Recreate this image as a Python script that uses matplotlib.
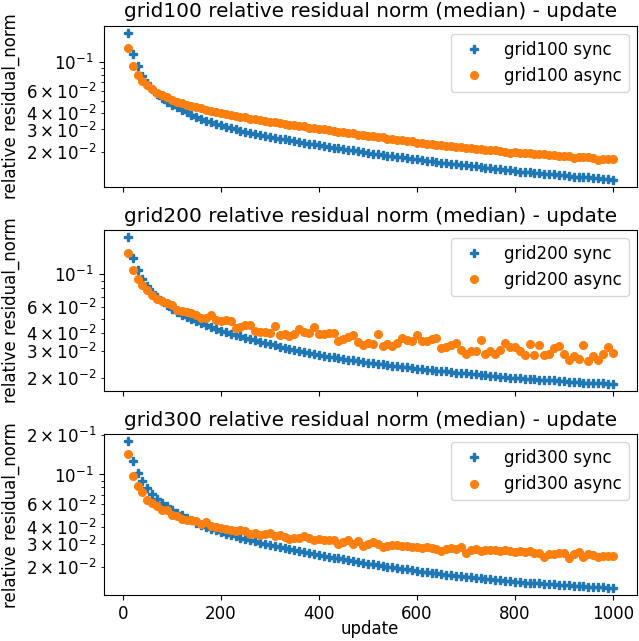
import matplotlib
matplotlib.use("Agg")
import matplotlib.pyplot as plt
from matplotlib.ticker import LogFormatterSciNotation

plt.rcParams['font.size'] = 12

updates = list(range(10, 1001, 10))
grids = ['grid100', 'grid200', 'grid300']

# grid100
g100_sync = [0.169, 0.116, 0.0931, 0.0785, 0.0692, 0.0624, 0.0571, 0.0531, 0.0495, 0.0468,
             0.0445, 0.0425, 0.0407, 0.0391, 0.0376, 0.0363, 0.0352, 0.0341, 0.0332, 0.0324,
             0.0316, 0.0308, 0.0301, 0.0294, 0.0288, 0.0283, 0.0278, 0.0273, 0.0268, 0.0263,
             0.0259, 0.0255, 0.0251, 0.0247, 0.0243, 0.0239, 0.0236, 0.0233, 0.0230, 0.0226,
             0.0223, 0.0220, 0.0217, 0.0214, 0.0211, 0.0208, 0.0206, 0.0203, 0.0200, 0.0197,
             0.0195, 0.0193, 0.0191, 0.0188, 0.0186, 0.0184, 0.0182, 0.0180, 0.0178, 0.0176,
             0.0174, 0.0172, 0.0170, 0.0168, 0.0166, 0.0164, 0.0163, 0.0161, 0.0160, 0.0158,
             0.0156, 0.0155, 0.0153, 0.0151, 0.0150, 0.0148, 0.0147, 0.0145, 0.0144, 0.0143,
             0.0141, 0.0140, 0.0139, 0.0138, 0.0137, 0.0136, 0.0135, 0.0134, 0.0132, 0.0132,
             0.0131, 0.0129, 0.0129, 0.0128, 0.0127, 0.0126, 0.0125, 0.0124, 0.0123, 0.0122]
g100_async = [0.129, 0.0943, 0.0803, 0.0721, 0.0671, 0.0621, 0.0580, 0.0552, 0.0535, 0.0505,
              0.0491, 0.0479, 0.0467, 0.0458, 0.0445, 0.0438, 0.0426, 0.0417, 0.0410, 0.0401,
              0.0396, 0.0388, 0.0384, 0.0376, 0.0372, 0.0365, 0.0362, 0.0355, 0.0352, 0.0345,
              0.0342, 0.0336, 0.0334, 0.0327, 0.0325, 0.0318, 0.0317, 0.0310, 0.0309, 0.0303,
              0.0301, 0.0295, 0.0294, 0.0288, 0.0286, 0.0281, 0.0280, 0.0274, 0.0273, 0.0267,
              0.0266, 0.0261, 0.0260, 0.0255, 0.0254, 0.0248, 0.0247, 0.0243, 0.0242, 0.0237,
              0.0236, 0.0232, 0.0231, 0.0228, 0.0227, 0.0224, 0.0223, 0.0220, 0.0219, 0.0216,
              0.0215, 0.0212, 0.0211, 0.0209, 0.0208, 0.0206, 0.0205, 0.0202, 0.0196, 0.0201,
              0.0198, 0.0198, 0.0196, 0.0194, 0.0194, 0.0192, 0.0191, 0.0190, 0.0188, 0.0187,
              0.0186, 0.0180, 0.0184, 0.0183, 0.0182, 0.0181, 0.0175, 0.0178, 0.0178, 0.0177]

# grid200
g200_sync = [0.177, 0.129, 0.107, 0.0920, 0.0824, 0.0753, 0.0697, 0.0652, 0.0614, 0.0579,
             0.0555, 0.0532, 0.0513, 0.0495, 0.0479, 0.0463, 0.0450, 0.0437, 0.0424, 0.0412,
             0.0404, 0.0395, 0.0387, 0.0379, 0.0372, 0.0364, 0.0356, 0.0349, 0.0342, 0.0335,
             0.0329, 0.0323, 0.0317, 0.0311, 0.0305, 0.0301, 0.0296, 0.0291, 0.0286, 0.0282,
             0.0279, 0.0275, 0.0273, 0.0270, 0.0267, 0.0264, 0.0261, 0.0258, 0.0255, 0.0252,
             0.0250, 0.0248, 0.0245, 0.0243, 0.0241, 0.0239, 0.0237, 0.0234, 0.0232, 0.0230,
             0.0229, 0.0226, 0.0225, 0.0223, 0.0221, 0.0220, 0.0218, 0.0216, 0.0214, 0.0213,
             0.0211, 0.0210, 0.0208, 0.0207, 0.0206, 0.0204, 0.0203, 0.0201, 0.0200, 0.0199,
             0.0198, 0.0196, 0.0195, 0.0195, 0.0193, 0.0192, 0.0191, 0.0191, 0.0189, 0.0188,
             0.0187, 0.0187, 0.0186, 0.0185, 0.0185, 0.0184, 0.0183, 0.0183, 0.0182, 0.0181]
g200_async = [0.139, 0.107, 0.0929, 0.0845, 0.0774, 0.0723, 0.0678, 0.0654, 0.0634, 0.0617,
              0.0570, 0.0559, 0.0550, 0.0542, 0.0531, 0.0508, 0.0503, 0.0531, 0.0490, 0.0482,
              0.0487, 0.0482, 0.0435, 0.0440, 0.0451, 0.0453, 0.0412, 0.0408, 0.0406, 0.0402,
              0.0444, 0.0387, 0.0395, 0.0381, 0.0395, 0.0423, 0.0408, 0.0402, 0.0439, 0.0391,
              0.0395, 0.0402, 0.0400, 0.0352, 0.0362, 0.0375, 0.0387, 0.0349, 0.0334, 0.0343,
              0.0338, 0.0391, 0.0326, 0.0338, 0.0326, 0.0343, 0.0367, 0.0356, 0.0352, 0.0385,
              0.0352, 0.0352, 0.0365, 0.0367, 0.0314, 0.0321, 0.0334, 0.0343, 0.0309, 0.0289,
              0.0304, 0.0301, 0.0356, 0.0289, 0.0301, 0.0289, 0.0309, 0.0343, 0.0321, 0.0321,
              0.0304, 0.0283, 0.0338, 0.0283, 0.0331, 0.0283, 0.0289, 0.0314, 0.0326, 0.0286,
              0.0264, 0.0278, 0.0268, 0.0331, 0.0257, 0.0278, 0.0264, 0.0289, 0.0321, 0.0292]

# grid300
g300_sync = [0.178, 0.126, 0.1035, 0.0891, 0.0794, 0.0715, 0.0656, 0.0608, 0.0574, 0.0542,
             0.0514, 0.0490, 0.0469, 0.0450, 0.0433, 0.0417, 0.0403, 0.0389, 0.0377, 0.0366,
             0.0356, 0.0348, 0.0340, 0.0333, 0.0325, 0.0318, 0.0312, 0.0305, 0.0299, 0.0293,
             0.0288, 0.0282, 0.0277, 0.0272, 0.0267, 0.0263, 0.0259, 0.0255, 0.0251, 0.0247,
             0.0243, 0.0239, 0.0235, 0.0232, 0.0228, 0.0225, 0.0221, 0.0218, 0.0215, 0.0212,
             0.0209, 0.0207, 0.0204, 0.0201, 0.0198, 0.0195, 0.0193, 0.0191, 0.0188, 0.0186,
             0.0184, 0.0182, 0.0180, 0.0179, 0.0177, 0.0175, 0.0174, 0.0172, 0.0171, 0.0169,
             0.0167, 0.0166, 0.0164, 0.0163, 0.0161, 0.0160, 0.0158, 0.0157, 0.0156, 0.0154,
             0.0153, 0.0152, 0.0152, 0.0151, 0.0150, 0.0149, 0.0148, 0.0148, 0.0147, 0.0146,
             0.0145, 0.0144, 0.0144, 0.0143, 0.0142, 0.0141, 0.0140, 0.0140, 0.0139, 0.0138]
g300_async = [0.143, 0.0971, 0.0812, 0.0736, 0.0637, 0.0608, 0.0574, 0.0542, 0.0536, 0.0491,
              0.0482, 0.0463, 0.0450, 0.0450, 0.0445, 0.0425, 0.0435, 0.0405, 0.0401, 0.0396,
              0.0389, 0.0378, 0.0372, 0.0378, 0.0372, 0.0357, 0.0361, 0.0347, 0.0357, 0.0361,
              0.0341, 0.0347, 0.0337, 0.0327, 0.0333, 0.0333, 0.0341, 0.0333, 0.0318, 0.0327,
              0.0318, 0.0322, 0.0318, 0.0300, 0.0309, 0.0318, 0.0300, 0.0314, 0.0287, 0.0297,
              0.0309, 0.0297, 0.0283, 0.0287, 0.0292, 0.0292, 0.0287, 0.0287, 0.0283, 0.0283,
              0.0280, 0.0283, 0.0280, 0.0275, 0.0264, 0.0275, 0.0280, 0.0275, 0.0283, 0.0255,
              0.0270, 0.0275, 0.0264, 0.0270, 0.0267, 0.0267, 0.0264, 0.0267, 0.0264, 0.0260,
              0.0264, 0.0260, 0.0264, 0.0255, 0.0255, 0.0238, 0.0252, 0.0249, 0.0255, 0.0255,
              0.0235, 0.0249, 0.0260, 0.0238, 0.0249, 0.0245, 0.0238, 0.0241, 0.0241, 0.0241]

sync_data = [g100_sync, g200_sync, g300_sync]
async_data = [g100_async, g200_async, g300_async]

fig, axes = plt.subplots(3, 1, sharex=True, figsize=(6.39, 6.41), dpi=100)
fig.subplots_adjust(left=0.162, right=0.997, top=0.96, bottom=0.071, hspace=0.265)

for ax, name, s, a in zip(axes, grids, sync_data, async_data):
    ax.plot(updates, s, 'P', markersize=5.5, label=name + ' sync')
    ax.plot(updates, a, 'o', markersize=5.5, label=name + ' async')
    ax.set_yscale('log')
    # label the 2,3,4,6 minor ticks like older matplotlib did
    ax.yaxis.set_minor_formatter(LogFormatterSciNotation(labelOnlyBase=False, minor_thresholds=(2, 0.4)))
    ax.set_title(name + ' relative residual norm (median) - update')
    ax.set_ylabel('relative residual_norm')
    ax.legend(loc='upper right')

axes[-1].set_xlabel('update', labelpad=-2)

plt.savefig('out.png')
